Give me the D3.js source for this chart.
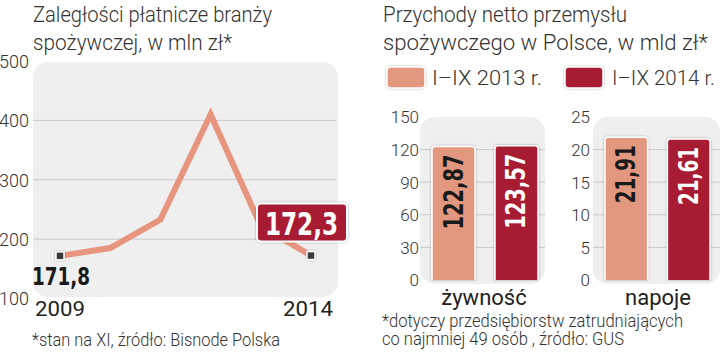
<!DOCTYPE html>
<html><head><meta charset="utf-8">
<script src="https://cdn.jsdelivr.net/npm/d3@7"></script>
<style>
body{margin:0;background:#fff;}
svg{display:block;}
.light{font-family:Roboto,"Open Sans",sans-serif;font-weight:300;fill:#333;}
.reg{font-family:Roboto,"Open Sans",sans-serif;font-weight:400;fill:#222;}
.bold{font-family:"DejaVu Sans Condensed","DejaVu Sans",sans-serif;font-weight:bold;}
</style></head>
<body>
<script>
// ---- Data ----
const years = [2009, 2010, 2011, 2012, 2013, 2014];
const arrears = [171.8, 185, 233, 410, 222, 172.3];
const arrearsTicks = [100, 200, 300, 400, 500];
const groups = ["żywność", "napoje"];
const seriesNames = ["I–IX 2013 r.", "I–IX 2014 r."];
const food = [122.87, 123.57];
const drinks = [21.91, 21.61];
const foodTicks = [0, 30, 60, 90, 120, 150];
const drinkTicks = [0, 5, 10, 15, 20, 25];
const fmt = v => String(v).replace(".", ",");

const W = 720, H = 352;
const colLight = "#e2977f", colDark = "#a71b31", panelBg = "#efefef", gridCol = "#c9c9c9";
const svg = d3.select("body").append("svg").attr("width", W).attr("height", H);
const defs = svg.append("defs");
const f = defs.append("filter").attr("id","sh").attr("x","-20%").attr("y","-20%").attr("width","140%").attr("height","140%");
f.append("feDropShadow").attr("dx",0).attr("dy",0).attr("stdDeviation",1).attr("flood-color","#000").attr("flood-opacity",0.35);

function txt(g, s, x, y, cls, size, len, anchor){
  const t = g.append("text").attr("x", x).attr("y", y).attr("class", cls).style("font-size", size+"px").text(s);
  if (anchor) t.attr("text-anchor", anchor);
  if (len) t.attr("textLength", len).attr("lengthAdjust", "spacingAndGlyphs");
  return t;
}

// ---- Left chart ----
const L = svg.append("g");
txt(L, "Zaległości płatnicze branży", 33, 22, "light", 22, 239);
txt(L, "spożywczej, w mln zł*", 33, 50, "light", 22, 199);
L.append("rect").attr("x",33).attr("y",62).attr("width",305).attr("height",235).attr("rx",15).attr("fill",panelBg);
const x = d3.scaleLinear().domain([2009, 2014]).range([60, 311]);
const y = d3.scaleLinear().domain([100, 500]).range([298.5, 61]);
L.selectAll(".grid").data(arrearsTicks.filter(t => t > 100 && t < 500)).join("line")
  .attr("x1", 33).attr("x2", 336).attr("y1", d => y(d)).attr("y2", d => y(d))
  .attr("stroke", gridCol).attr("stroke-width", 1);
const yAxL = L.append("g").attr("transform","translate(29,0)")
  .call(d3.axisLeft(y).tickValues(arrearsTicks).tickSize(0).tickPadding(0));
yAxL.select(".domain").remove();
yAxL.selectAll("text").attr("class","light").style("font-size","18px").attr("dy","0.35em").attr("fill","#333").attr("font-family",null);
L.append("path").datum(years.map((yr,i)=>[yr, arrears[i]]))
  .attr("d", d3.line().x(d=>x(d[0])).y(d=>y(d[1])))
  .attr("fill","none").attr("stroke","#e8957f").attr("stroke-width",6).attr("stroke-linejoin","miter");
[0, years.length-1].forEach(i=>{
  L.append("rect").attr("x", x(years[i])-4).attr("y", y(arrears[i])-4).attr("width",8).attr("height",8)
    .attr("fill","#3a3a3a").attr("stroke","#fff").attr("stroke-width",1.5).attr("filter","url(#sh)");
});
txt(L, fmt(arrears[0]), 32, 285, "bold", 24, 58).attr("fill","#1a1a1a");
const last = arrears[arrears.length-1];
L.append("rect").attr("x",257).attr("y",y(last)-52).attr("width",90).attr("height",38).attr("rx",4)
  .attr("fill",colDark).attr("stroke","#fff").attr("stroke-width",2).attr("filter","url(#sh)");
txt(L, fmt(last), 265, y(last)-21, "bold", 32, 73).attr("fill","#fff");
txt(L, String(years[0]), 35, 316, "reg", 21, 50);
txt(L, String(years[years.length-1]), 283, 316, "reg", 21, 50);
txt(L, "*stan na XI, źródło: Bisnode Polska", 32, 346, "light", 18, 248);

// ---- Right chart ----
const R = svg.append("g");
txt(R, "Przychody netto przemysłu", 383, 22, "light", 22, 244);
txt(R, "spożywczego w Polsce, w mld zł*", 383, 50, "light", 22, 325);
const legX = [387, 565], legTX = [432, 612], legLen = [110, 103];
seriesNames.forEach((s,i)=>{
  R.append("rect").attr("x",legX[i]).attr("y",67).attr("width",38).attr("height",21).attr("rx",4)
    .attr("fill", i?colDark:colLight).attr("stroke","#fff").attr("stroke-width",1.5).attr("filter","url(#sh)");
  txt(R, s, legTX[i], 85, "light", 21, legLen[i]);
});
const panels = [
  {name: groups[0], vals: food, ticks: foodTicks, px: 420, pw: 125, bx: [432, 538], tickX: 419, lx: 484},
  {name: groups[1], vals: drinks, ticks: drinkTicks, px: 593, pw: 127, bx: [605, 710], tickX: 590, lx: 658}
];
panels.forEach(p=>{
  const g = R.append("g");
  const ys = d3.scaleLinear().domain([0, d3.max(p.ticks)]).range([280, 117]);
  g.append("rect").attr("x",p.px).attr("y",117).attr("width",p.pw).attr("height",167).attr("rx",15).attr("fill",panelBg);
  g.selectAll(".grid").data(p.ticks.filter(t=>t>0 && t<d3.max(p.ticks))).join("line")
    .attr("x1",p.px).attr("x2",p.px+p.pw).attr("y1",d=>ys(d)).attr("y2",d=>ys(d))
    .attr("stroke",gridCol).attr("stroke-width",1);
  const ax = g.append("g").attr("transform",`translate(${p.tickX},0)`)
    .call(d3.axisLeft(ys).tickValues(p.ticks).tickSize(0).tickPadding(0));
  ax.select(".domain").remove();
  ax.selectAll("text").attr("class","light").style("font-size","17px").attr("dy","0.35em").attr("fill","#333").attr("font-family",null);
  const xb = d3.scaleBand().domain([0,1]).range(p.bx).paddingInner(0.317).paddingOuter(0);
  p.vals.forEach((v,i)=>{
    const bx = xb(i), bw = xb.bandwidth(), top = ys(v);
    g.append("path")
      .attr("d", `M${bx},280 V${top+3} Q${bx},${top} ${bx+3},${top} H${bx+bw-3} Q${bx+bw},${top} ${bx+bw},${top+3} V280`)
      .attr("fill", i?colDark:colLight).attr("stroke","#fff").attr("stroke-width",1.5).attr("filter","url(#sh)");
    const t = g.append("text").attr("class","bold")
      .attr("transform",`translate(${bx+bw/2+9},${top+8}) rotate(-90)`)
      .attr("text-anchor","end").style("font-size","26px")
      .attr("fill", i?"#fff":"#1a1a1a").text(fmt(v));
    t.attr("textLength", fmt(v).length>5?75:58).attr("lengthAdjust","spacingAndGlyphs");
  });
  txt(g, p.name, p.lx, 305, "reg", 22, null, "middle");
});
txt(R, "*dotyczy przedsiębiorstw zatrudniających", 382, 327, "light", 18, 301);
txt(R, "co najmniej 49 osób , źródło: GUS", 382, 345, "light", 18, 242);
</script>
</body></html>
